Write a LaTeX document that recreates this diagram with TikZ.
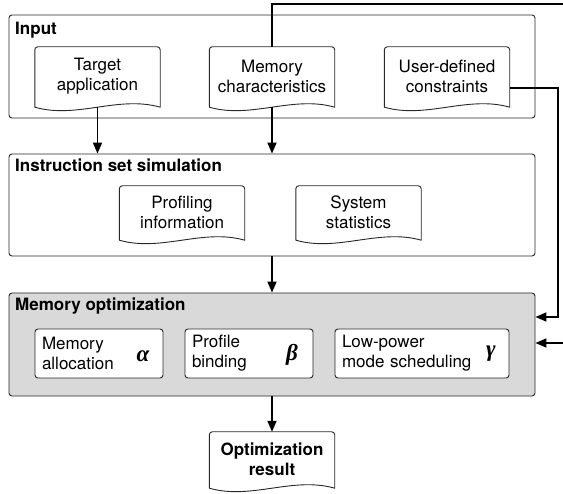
\documentclass[tikz,border=0pt]{standalone}
\usepackage{fontspec}
\setmainfont{TeX Gyre Heros}
\newfontfamily\greekfont{Liberation Serif}
\usetikzlibrary{arrows.meta}
\definecolor{optfill}{RGB}{217,217,217}
\definecolor{edgegray}{RGB}{40,40,40}
\tikzset{
  x=1pt, y=-1pt,
  txt/.style={font=\fontsize{17}{20}\selectfont},
  stage/.style={draw=edgegray, line width=0.9pt, rounded corners=3pt, fill=white,
    minimum width=526pt, inner sep=0pt},
  stagetitle/.style={anchor=base west, inner sep=0pt, font=\fontsize{17}{20}\selectfont\bfseries},
  doc/.style={txt, minimum width=125pt, inner sep=0pt, align=center},
  docline/.style={draw=edgegray, line width=0.9pt, line join=round},
  task/.style={txt, draw=edgegray, line width=0.9pt, rounded corners=3pt, fill=white,
    inner xsep=7pt, inner ysep=0pt, align=left, minimum height=49pt},
  greek/.style={inner sep=0pt, font=\fontsize{23}{23}\selectfont\greekfont\bfseries\itshape},
  flow/.style={line width=1.8pt, -{Triangle[length=11pt,width=9pt]}},
}
% document outline: rounded top corners, wavy bottom edge
\newcommand\docoutline[1]{%
  \draw[docline] ([yshift=-2pt]#1.south west) [rounded corners=3pt] -- (#1.north west)
    -- (#1.north east) [sharp corners] -- ([yshift=-2pt]#1.south east)
    .. controls +(-42pt,12pt) and +(42pt,-12pt) .. ([yshift=-2pt]#1.south west) -- cycle;}
\begin{document}
\begin{tikzpicture}
\path[use as bounding box] (0,0) rectangle (563,494);
\clip (0,0) rectangle (563,494);

% stages
\node[stage, minimum height=103pt] (inp) at (272,66.5) {};
\node[stagetitle] (tinp) at (15,35) {Input};
\node[stage, minimum height=102pt] (iss) at (272,205) {};
\node[stagetitle] (tiss) at (15,172) {Instruction set simulation};
\node[stage, minimum height=103pt, fill=optfill] (mo) at (272,344.5) {};
\node[stagetitle] (tmo) at (15,311) {Memory optimization};

% input documents
\node[doc, minimum height=58pt] (ta) at (97.5,76) {Target\\application};
\docoutline{ta}
\node[doc, minimum height=58pt] (mc) at (272,76) {Memory\\characteristics};
\docoutline{mc}
\node[doc, minimum height=58pt] (ud) at (447,76) {User-defined\\constraints};
\docoutline{ud}

% simulation outputs
\node[doc, minimum height=52pt] (pi) at (182,212) {Profiling\\information};
\docoutline{pi}
\node[doc, minimum height=52pt] (ss) at (358.5,212) {System\\statistics};
\docoutline{ss}

% optimization tasks
\node[task, text width=114pt] (alloc) at (99,353.5) {Memory\\allocation};
\node[greek] (ga) at (143,356) {α};
\node[task, text width=114pt] (bind) at (249,353.5) {Profile\\binding};
\node[greek] (gb) at (292,355) {β};
\node[task, text width=160pt] (sched) at (422,353.5) {Low-power\\mode scheduling};
\node[greek] (gc) at (491,354) {γ};

% result
\node[doc, minimum height=54pt, font=\fontsize{17}{20}\selectfont\bfseries] (res) at (272,459) {Optimization\\result};
\docoutline{res}

% connectors
\coordinate (fbtop) at (575,4);
\coordinate (udturn) at (558,317);
\draw[flow] ([yshift=-2pt]ta.south) -- (ta.south |- iss.north);
\draw[flow] ([yshift=-2pt]mc.south) -- (mc.south |- iss.north);
\draw[flow] (iss.south) -- (mo.north);
\draw[flow] (mo.south) -- (res.north);
\draw[flow] ([yshift=-12pt]ud.east) -| (udturn) -- (mo.east |- udturn);
\draw[flow] (mc.north) |- (fbtop) |- ([yshift=1.5pt]mo.east);
\end{tikzpicture}
\end{document}
